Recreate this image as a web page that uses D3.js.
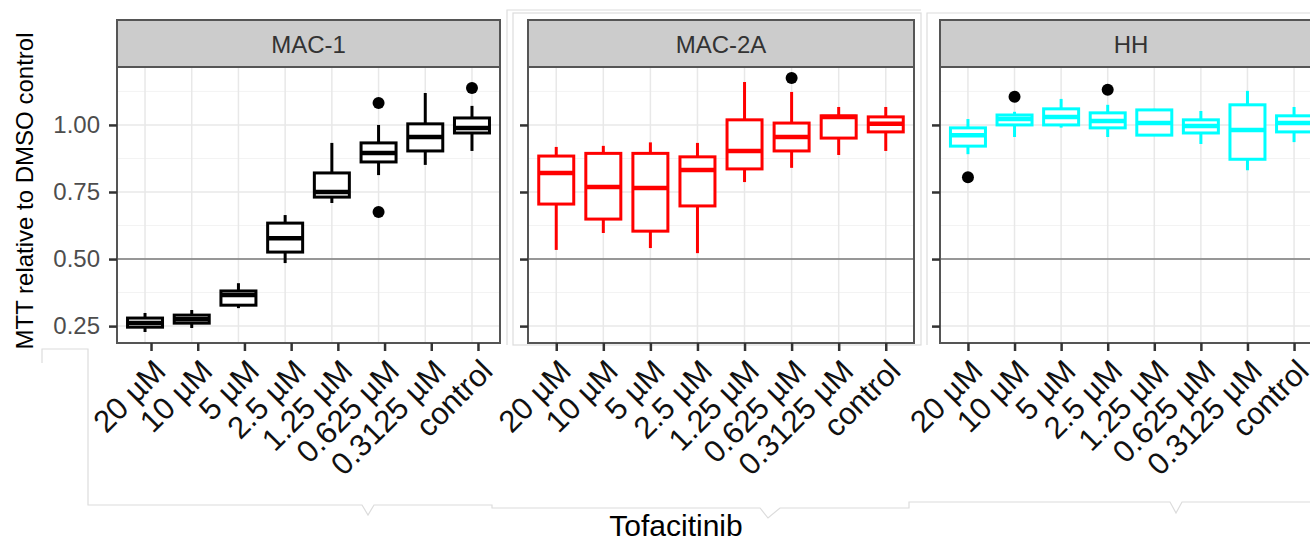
<!DOCTYPE html>
<html lang="en">
<head>
<meta charset="UTF-8">
<title>MTT boxplots</title>
<script src="https://cdn.jsdelivr.net/npm/d3@7"></script>
<style>
  body { margin: 0; background: #fff; }
  svg text { font-family: "Liberation Sans", Arial, sans-serif; }
</style>
</head>
<body>
<div class="app"></div>
<script>
// categories on the x axis (same in all panels)
var categories = ["20 µM", "10 µM", "5 µM", "2.5 µM", "1.25 µM", "0.625 µM", "0.3125 µM", "control"];
var panelNames = ["MAC-1", "MAC-2A", "HH"];
var panelColors = ["#000000", "#ff0000", "#00ffff"];
var yTicks = [0.25, 0.50, 0.75, 1.00];
var yMinor = [0.375, 0.625, 0.875, 1.125];

// box stats per category: [lower whisker, q1, median, q3, upper whisker]
var mac1 = [
  [0.228, 0.246, 0.262, 0.280, 0.299],
  [0.243, 0.261, 0.276, 0.291, 0.310],
  [0.317, 0.328, 0.366, 0.381, 0.410],
  [0.485, 0.526, 0.578, 0.634, 0.664],
  [0.709, 0.731, 0.750, 0.821, 0.933],
  [0.813, 0.862, 0.895, 0.933, 1.000],
  [0.851, 0.903, 0.955, 1.004, 1.119],
  [0.903, 0.970, 0.989, 1.026, 1.071]
];
var mac2a = [
  [0.534, 0.705, 0.821, 0.884, 0.918],
  [0.597, 0.649, 0.769, 0.894, 0.922],
  [0.541, 0.604, 0.765, 0.894, 0.935],
  [0.522, 0.698, 0.832, 0.881, 0.933],
  [0.787, 0.836, 0.903, 1.019, 1.160],
  [0.840, 0.903, 0.955, 1.007, 1.123],
  [0.888, 0.951, 1.030, 1.034, 1.067],
  [0.903, 0.974, 1.004, 1.030, 1.067]
];
var hh = [
  [0.891, 0.921, 0.962, 0.989, 1.022],
  [0.955, 1.000, 1.022, 1.037, 1.049],
  [0.990, 1.000, 1.030, 1.060, 1.097],
  [0.955, 0.989, 1.015, 1.045, 1.075],
  [0.962, 0.962, 1.007, 1.056, 1.060],
  [0.929, 0.970, 0.996, 1.019, 1.052],
  [0.831, 0.872, 0.981, 1.075, 1.127],
  [0.936, 0.974, 1.007, 1.034, 1.067]
];
// outliers: [category index, value]
var mac1Out = [[5, 1.082], [5, 0.675], [7, 1.138]];
var mac2aOut = [[5, 1.175]];
var hhOut = [[0, 0.805], [1, 1.105], [3, 1.131]];

var panelStats = [mac1, mac2a, hh];
var panelOut = [mac1Out, mac2aOut, hhOut];

var width = 1310, height = 544;
var svg = d3.select('.app').append('svg')
  .attr('width', width).attr('height', height);

// layout
var panelX = [117, 528, 940],
    panelW = [383, 386, 382],
    tickShift = [6, 0, 0],
    stripTop = 20, plotTop = 67, plotBottom = 343;

var y = d3.scaleLinear().domain([0.187, 1.216]).range([plotBottom, plotTop]);

// light frames of the composite picture
var frame = svg.append('g').attr('fill', 'none').attr('stroke', '#dcdcdc').attr('stroke-width', 1.2);
frame.append('path').attr('d', 'M507,345 V10 H921');
frame.append('rect').attr('x', 513).attr('y', 13).attr('width', 408).attr('height', 332);
frame.append('path').attr('d', 'M927,345 V13 H1310');
frame.append('path').attr('d', 'M42,363 V349 H88 V505 H362 L368,515 L374,505 H492 V508 H760 L768,518 L780,508 H909 V502 H1170 L1176,513 L1182,502 H1310');

panelNames.forEach(function(name, p) {
  var x = d3.scalePoint().domain(categories).range([0, panelW[p]]).padding(0.6);
  var g = svg.append('g').attr('transform', 'translate(' + panelX[p] + ',0)');
  var w = panelW[p];

  // background
  g.append('rect').attr('x', 0).attr('y', plotTop).attr('width', w)
    .attr('height', plotBottom - plotTop).attr('fill', '#fff');

  // grid
  g.selectAll('.minor').data(yMinor).enter().append('line')
    .attr('x1', 0).attr('x2', w)
    .attr('y1', function(d) { return y(d); }).attr('y2', function(d) { return y(d); })
    .attr('stroke', '#f3f3f3').attr('stroke-width', 1);
  g.selectAll('.major').data(yTicks).enter().append('line')
    .attr('x1', 0).attr('x2', w)
    .attr('y1', function(d) { return y(d); }).attr('y2', function(d) { return y(d); })
    .attr('stroke', '#e8e8e8').attr('stroke-width', 1.5);
  g.selectAll('.vgrid').data(categories).enter().append('line')
    .attr('x1', function(d) { return x(d); }).attr('x2', function(d) { return x(d); })
    .attr('y1', plotTop).attr('y2', plotBottom)
    .attr('stroke', '#e8e8e8').attr('stroke-width', 1.5);

  // reference line at 0.5
  g.append('line').attr('x1', 0).attr('x2', w)
    .attr('y1', y(0.5)).attr('y2', y(0.5))
    .attr('stroke', '#7a7a7a').attr('stroke-width', 1.6);

  // boxes
  var col = panelColors[p];
  var bw = 35;
  var box = g.selectAll('.box').data(panelStats[p]).enter().append('g')
    .attr('transform', function(d, i) { return 'translate(' + x(categories[i]) + ',0)'; });
  box.append('line').attr('x1', 0).attr('x2', 0)
    .attr('y1', function(d) { return y(d[4]); }).attr('y2', function(d) { return y(d[3]); })
    .attr('stroke', col).attr('stroke-width', 3);
  box.append('line').attr('x1', 0).attr('x2', 0)
    .attr('y1', function(d) { return y(d[1]); }).attr('y2', function(d) { return y(d[0]); })
    .attr('stroke', col).attr('stroke-width', 3);
  box.append('rect').attr('x', -bw / 2).attr('width', bw)
    .attr('y', function(d) { return y(d[3]); })
    .attr('height', function(d) { return y(d[1]) - y(d[3]); })
    .attr('fill', '#fff').attr('stroke', col).attr('stroke-width', 3);
  box.append('line').attr('x1', -bw / 2).attr('x2', bw / 2)
    .attr('y1', function(d) { return y(d[2]); }).attr('y2', function(d) { return y(d[2]); })
    .attr('stroke', col).attr('stroke-width', 4.5);

  // outliers
  g.selectAll('.out').data(panelOut[p]).enter().append('circle')
    .attr('cx', function(d) { return x(categories[d[0]]); })
    .attr('cy', function(d) { return y(d[1]); })
    .attr('r', 6).attr('fill', '#000');

  // panel border
  g.append('rect').attr('x', 0).attr('y', plotTop).attr('width', w)
    .attr('height', plotBottom - plotTop)
    .attr('fill', 'none').attr('stroke', '#555').attr('stroke-width', 2);

  // strip
  g.append('rect').attr('x', 0).attr('y', stripTop).attr('width', w)
    .attr('height', plotTop - stripTop)
    .attr('fill', '#cccccc').attr('stroke', '#555').attr('stroke-width', 2);
  g.append('text').attr('x', w / 2).attr('y', 53)
    .attr('text-anchor', 'middle').attr('font-size', 24).attr('fill', '#333')
    .text(name);

  // y axis
  var yAxis = g.append('g')
    .call(d3.axisLeft(y).tickValues(yTicks).tickSize(8).tickPadding(9)
      .tickFormat(p === 0 ? d3.format('.2f') : function() { return ''; }));
  yAxis.select('.domain').remove();
  yAxis.selectAll('line').attr('stroke', '#333').attr('stroke-width', 2.5);
  yAxis.selectAll('text').attr('font-size', 24).attr('fill', '#4d4d4d')
    .attr('font-family', '"Liberation Sans", Arial, sans-serif');

  // x axis
  var xAxis = g.append('g')
    .attr('transform', 'translate(' + tickShift[p] + ',' + plotBottom + ')')
    .call(d3.axisBottom(x).tickSize(8).tickFormat(''));
  xAxis.select('.domain').remove();
  xAxis.selectAll('line').attr('stroke', '#333').attr('stroke-width', 2.5);
  xAxis.selectAll('.tick').append('text')
    .attr('transform', 'translate(16,30) rotate(-45)')
    .attr('text-anchor', 'end').attr('font-size', 31).attr('fill', '#111')
    .text(function(d) { return d; });
});

// axis titles
svg.append('text').attr('transform', 'translate(33,191) rotate(-90)')
  .attr('text-anchor', 'middle').attr('font-size', 24).attr('fill', '#000')
  .text('MTT relative to DMSO control');
svg.append('text').attr('x', 676).attr('y', 536)
  .attr('text-anchor', 'middle').attr('font-size', 30).attr('fill', '#000')
  .text('Tofacitinib');
</script>
</body>
</html>
